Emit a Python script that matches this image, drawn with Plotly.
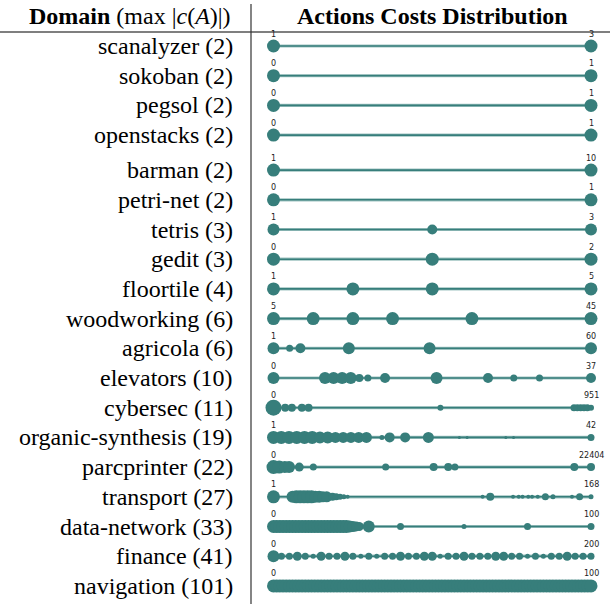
import plotly.graph_objects as go

# ---------------- data ----------------
domains = ["scanalyzer", "sokoban", "pegsol", "openstacks", "barman", "petri-net",
           "tetris", "gedit", "floortile", "woodworking", "agricola", "elevators",
           "cybersec", "organic-synthesis", "parcprinter", "transport",
           "data-network", "finance", "navigation"]
max_costs = [2, 2, 2, 2, 2, 2, 3, 3, 4, 6, 6, 10, 11, 19, 22, 27, 33, 41, 101]

costs_scanalyzer = [1, 3]
costs_sokoban = [0, 1]
costs_pegsol = [0, 1]
costs_openstacks = [0, 1]
costs_barman = [1, 10]
costs_petrinet = [0, 1]
costs_tetris = [1, 2, 3]
costs_gedit = [0, 1, 2]
costs_floortile = [1, 2, 3, 5]
costs_woodworking = [5, 10, 15, 20, 30, 45]
costs_agricola = [1, 4, 6, 15, 30, 60]
costs_elevators = [0, 6, 7, 8, 9, 10, 11, 13, 19, 25, 28, 31, 37]
costs_cybersec = [0, 35, 55, 85, 105, 500, 900, 910, 920, 930, 940, 951]
costs_organic = [1, 2, 3, 4, 5, 6, 7, 8, 9, 10, 11, 12, 13, 15, 16, 18, 21, 25, 26, 31, 32, 42]
costs_parcprinter = [0, 400, 800, 1100, 1820, 2810, 7915, 11300, 12330, 12800, 21225, 22404]
costs_transport = [1, 11, 13, 15, 17, 19, 21, 23, 25, 27, 29, 32, 34, 36, 38, 40,
                   111, 115, 127, 130, 132, 135, 137, 140, 144, 148, 158, 162, 168]
costs_datanetwork = list(range(0, 28)) + [30, 40, 60, 80, 100]
costs_finance = list(range(0, 201, 5))
costs_navigation = list(range(0, 101))

# relative frequency weights (rendered as dot diameter)
freq_scanalyzer = [13, 13]
freq_sokoban = [13, 13]
freq_pegsol = [13, 13]
freq_openstacks = [13, 13]
freq_barman = [13, 13]
freq_petrinet = [13, 13]
freq_tetris = [12, 10, 12]
freq_gedit = [13, 13, 13]
freq_floortile = [13, 13, 13, 13]
freq_woodworking = [13, 13, 13, 13, 13, 13]
freq_agricola = [12, 7, 10, 12, 12, 12]
freq_elevators = [12, 12, 12, 12, 12, 8, 7, 10, 12, 10, 7, 7, 10]
freq_cybersec = [16, 8, 8, 8, 8, 6, 7, 7, 7, 7, 7, 6]
freq_organic = [13, 13, 13, 13, 13, 13, 12, 12, 11, 11, 11, 11, 11, 5, 10, 10, 11, 3, 3, 3, 3, 7]
freq_parcprinter = [14, 13, 12, 12, 9, 7, 7, 8, 8, 7, 8, 8]
freq_transport = [13, 12, 13, 13, 13, 13, 13, 12, 12, 11, 11, 8, 7, 6, 5, 4,
                  4, 8, 4, 4, 4, 4, 4, 4, 7, 5, 4, 7, 5]
freq_datanetwork = [13] * 24 + [12, 11, 10, 9] + [12, 7, 5, 7, 7]
freq_finance = [12, 7, 7, 9, 7, 5, 9, 7, 7, 9, 7, 5, 7, 5, 7, 7, 9, 7, 7, 9, 9,
                5, 7, 7, 9, 7, 7, 7, 9, 9, 7, 7, 5, 7, 5, 7, 7, 9, 7, 7, 7]
freq_navigation = [13] * 101

all_costs = [costs_scanalyzer, costs_sokoban, costs_pegsol, costs_openstacks, costs_barman,
             costs_petrinet, costs_tetris, costs_gedit, costs_floortile, costs_woodworking,
             costs_agricola, costs_elevators, costs_cybersec, costs_organic, costs_parcprinter,
             costs_transport, costs_datanetwork, costs_finance, costs_navigation]
all_freqs = [freq_scanalyzer, freq_sokoban, freq_pegsol, freq_openstacks, freq_barman,
             freq_petrinet, freq_tetris, freq_gedit, freq_floortile, freq_woodworking,
             freq_agricola, freq_elevators, freq_cybersec, freq_organic, freq_parcprinter,
             freq_transport, freq_datanetwork, freq_finance, freq_navigation]

# ---------------- layout constants ----------------
W, H = 610, 604
TEAL = "#377e7b"
X0, X1 = 273.5, 591.0          # pixel extent of the distribution strip
ROW0, PITCH, GAP = 46.0, 29.7, 5.3
LABEL_RIGHT = 235


def row_y(i):
    return ROW0 + i * PITCH + (GAP if i >= 4 else 0)


fig = go.Figure()
annotations = []

for i, (name, mc, cs, fs) in enumerate(zip(domains, max_costs, all_costs, all_freqs)):
    y = row_y(i)
    lo, hi = min(cs), max(cs)
    xs = [(c - lo) / (hi - lo) for c in cs]
    # connecting line
    fig.add_trace(go.Scatter(x=[0, 1], y=[y, y], mode="lines",
                             line=dict(color="#9fc3c1", width=3.2),
                             hoverinfo="skip", showlegend=False, cliponaxis=False))
    fig.add_trace(go.Scatter(x=[0, 1], y=[y, y], mode="lines",
                             line=dict(color=TEAL, width=1.6),
                             hoverinfo="skip", showlegend=False, cliponaxis=False))
    fig.add_trace(go.Scatter(x=xs, y=[y] * len(xs), mode="markers",
                             marker=dict(color=TEAL, size=fs, line=dict(width=0), opacity=1),
                             showlegend=False, cliponaxis=False))
    # domain label
    annotations.append(dict(x=LABEL_RIGHT / W, xref="paper", y=y, yref="y",
                            text=f"{name} ({mc})", showarrow=False, xanchor="right",
                            yanchor="middle",
                            font=dict(family="Liberation Serif", size=24, color="black")))
    # min / max labels
    for xv, val in ((0, lo), (1, hi)):
        annotations.append(dict(x=xv, xref="x", y=y - 12, yref="y", text=str(val),
                                showarrow=False, xanchor="center", yanchor="middle",
                                font=dict(family="DejaVu Sans", size=8, color="#222")))

# headers
annotations.append(dict(x=130 / W, xref="paper", y=16, yref="y",
                        text="<b>Domain</b> (max |<i>c</i>(<i>A</i>)|)", showarrow=False,
                        xanchor="center", yanchor="middle",
                        font=dict(family="Liberation Serif", size=24, color="black")))
annotations.append(dict(x=432 / W, xref="paper", y=16, yref="y",
                        text="<b>Actions Costs Distribution</b>", showarrow=False,
                        xanchor="center", yanchor="middle",
                        font=dict(family="Liberation Serif", size=24, color="black")))

shapes = [
    dict(type="line", xref="paper", yref="y", x0=0, x1=1, y0=32, y1=32,
         line=dict(color="#555", width=1.5)),
    dict(type="line", xref="paper", yref="y", x0=251 / W, x1=251 / W, y0=4, y1=H,
         line=dict(color="#333", width=1.2)),
]

fig.update_layout(
    width=W, height=H,
    margin=dict(l=0, r=0, t=0, b=0),
    paper_bgcolor="white", plot_bgcolor="white",
    xaxis=dict(domain=[X0 / W, X1 / W], range=[0, 1], visible=False, fixedrange=True),
    yaxis=dict(domain=[0, 1], range=[H, 0], visible=False, fixedrange=True),
    annotations=annotations, shapes=shapes,
    showlegend=False,
)

fig.write_html("out.html",
               config={"displayModeBar": False, "staticPlot": True},
               post_script="document.body.style.margin='0px';document.body.style.overflow='hidden';")
